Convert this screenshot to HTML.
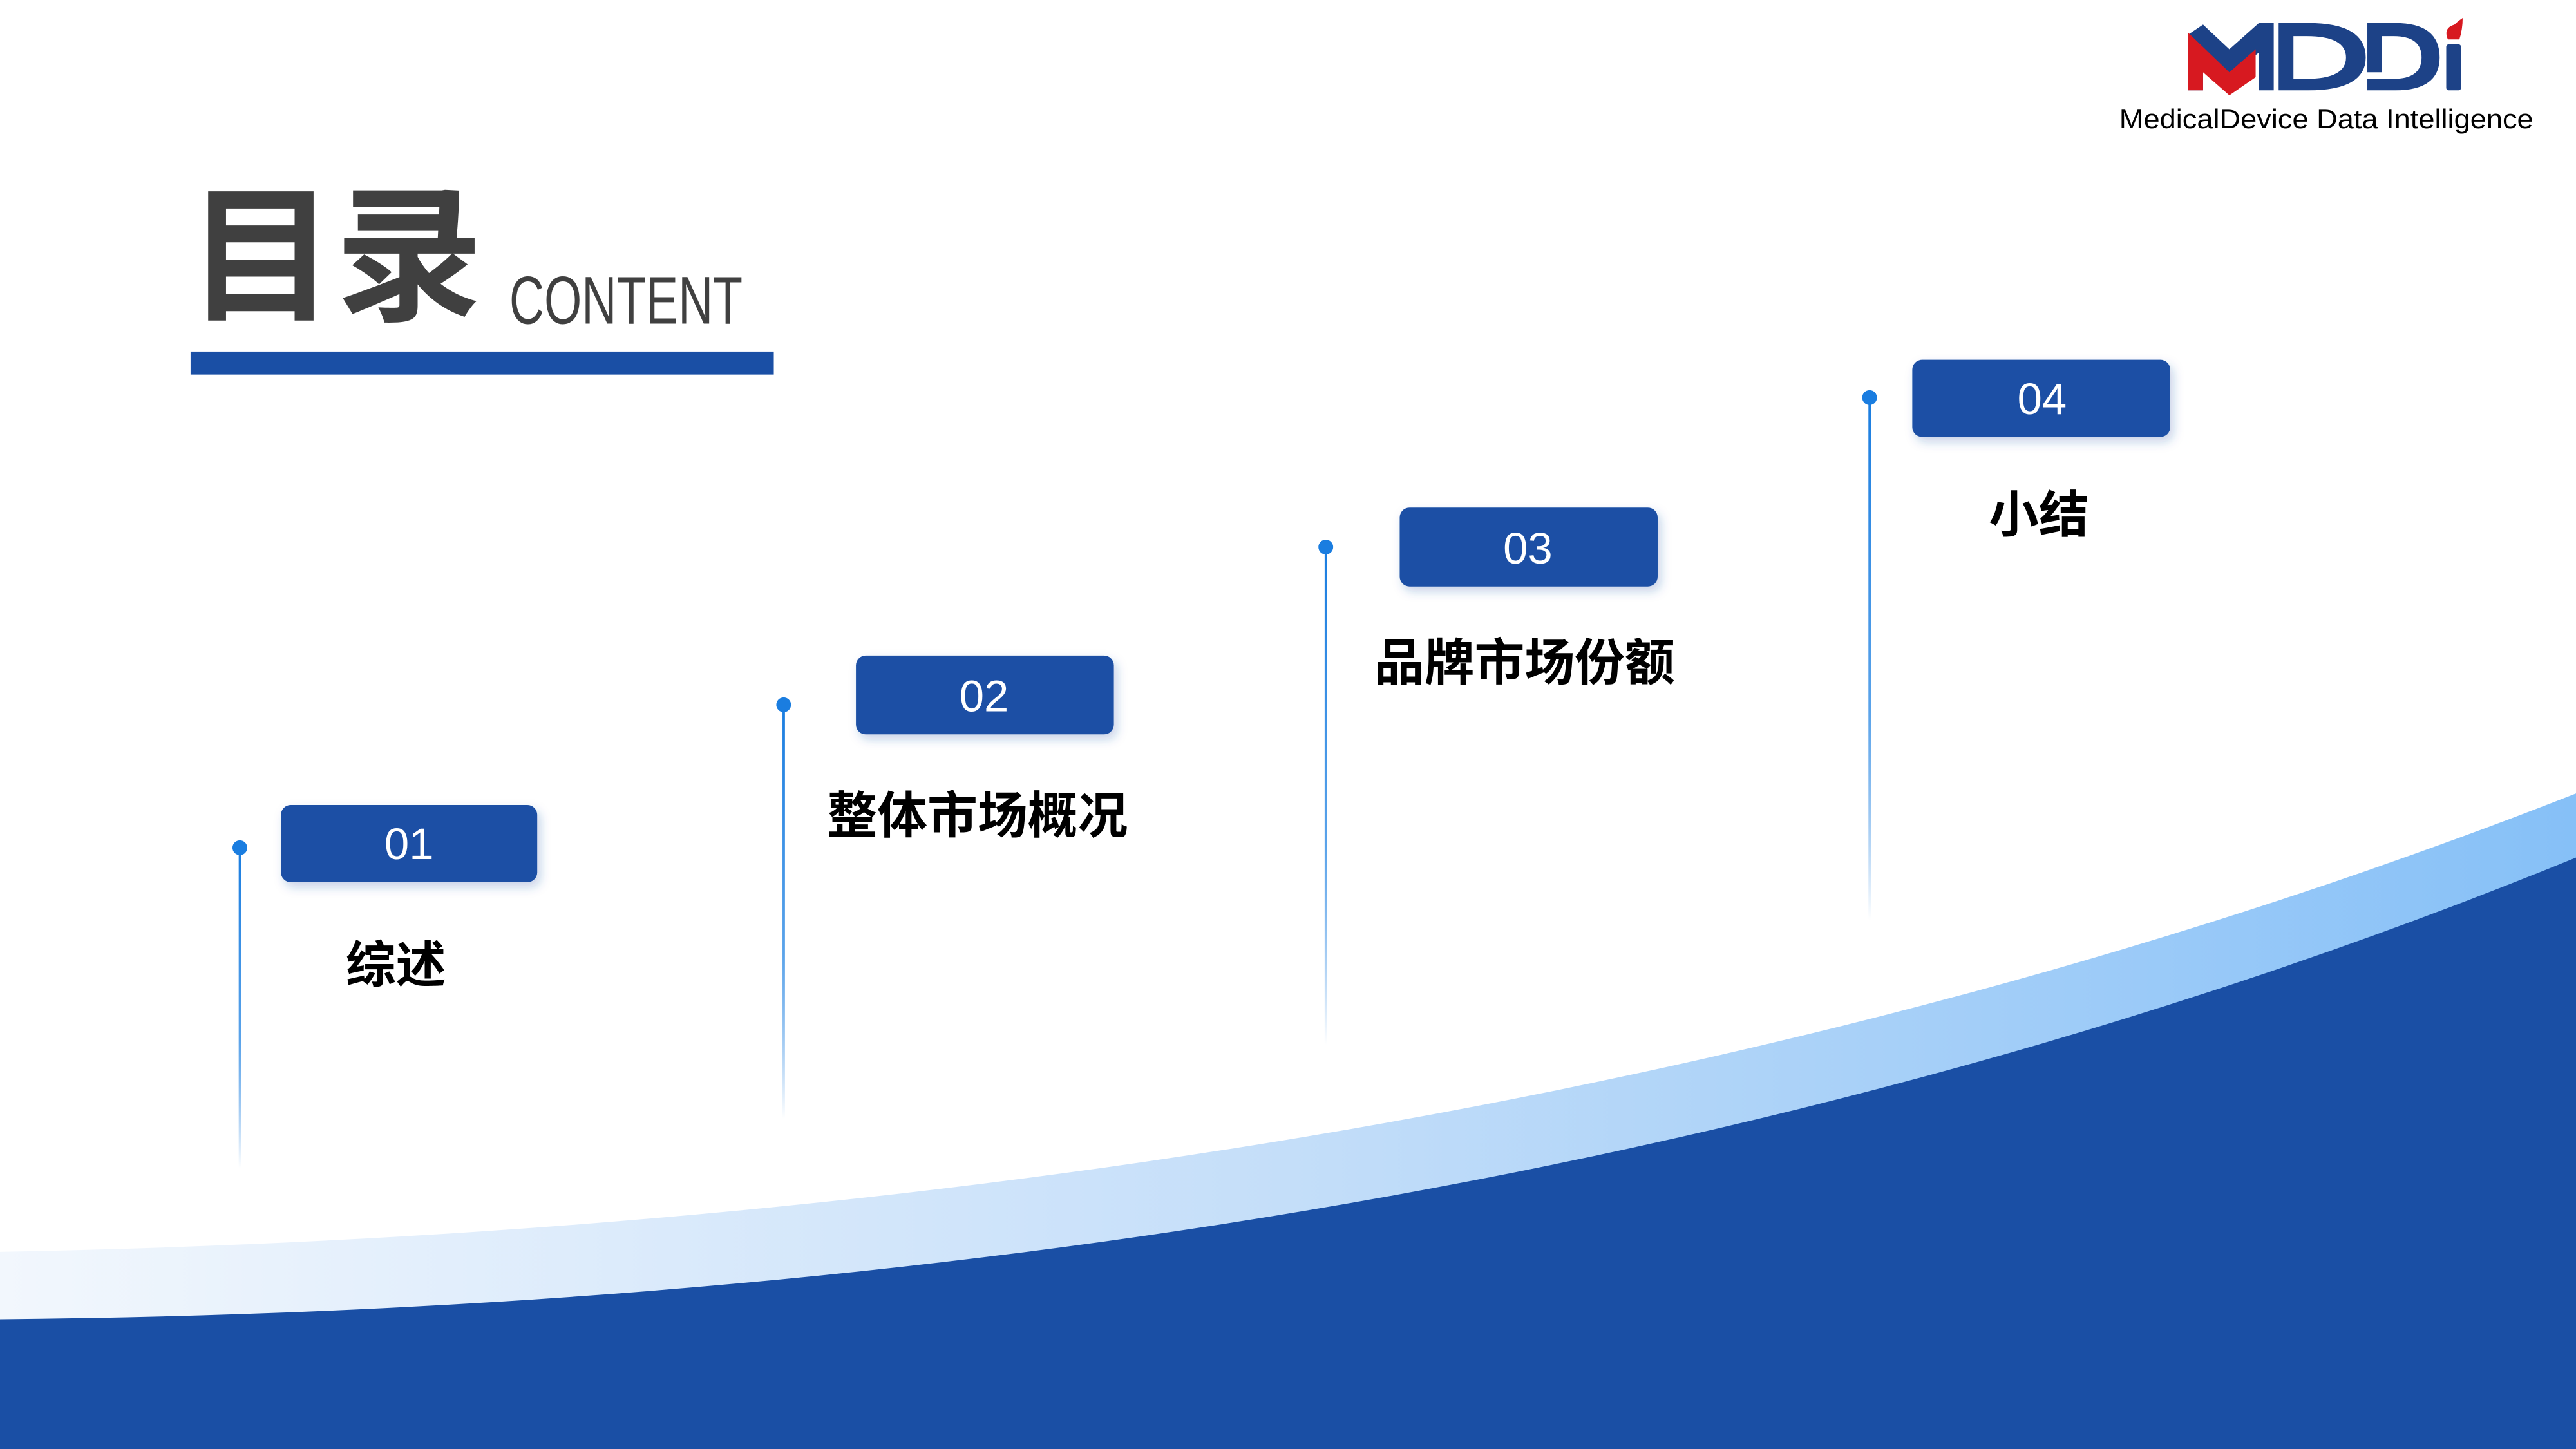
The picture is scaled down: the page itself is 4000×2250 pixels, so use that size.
<!DOCTYPE html>
<html><head><meta charset="utf-8"><style>
html,body{margin:0;padding:0;background:#fff;width:4000px;height:2250px;overflow:hidden}
svg{display:block}
</style></head><body>
<svg width="4000" height="2250" viewBox="0 0 1568 882" preserveAspectRatio="none" xmlns="http://www.w3.org/2000/svg">
<defs>
<linearGradient id="lb" x1="0" y1="0" x2="1" y2="0">
<stop offset="0" stop-color="#f2f7fd"/><stop offset="0.5" stop-color="#c4def9"/><stop offset="1" stop-color="#86c0f7"/>
</linearGradient>
<linearGradient id="ln" x1="0" y1="0" x2="0" y2="1">
<stop offset="0" stop-color="#1a7de0"/><stop offset="0.6" stop-color="#5aa3ea"/><stop offset="1" stop-color="#1a7de0" stop-opacity="0"/>
</linearGradient>
<filter id="sh" x="-20%" y="-30%" width="140%" height="170%"><feDropShadow dx="2" dy="3" stdDeviation="3" flood-color="#1a4fa5" flood-opacity="0.25"/></filter>
</defs>
<rect width="1568" height="882" fill="#fff"/>
<path d="M0,762 Q900,745 1568,483 L1568,882 L0,882 Z" fill="url(#lb)"/>
<path d="M0,803 Q900,795 1568,522 L1568,882 L0,882 Z" fill="#1a4fa5"/>

<!-- title -->
<text x="114" y="188" font-family="Liberation Sans,'Noto Sans CJK SC',sans-serif" font-weight="bold" font-size="90" fill="#404040">目录</text>
<text x="310" y="197" font-family="Liberation Sans,sans-serif" font-size="41" fill="#404040" textLength="142" lengthAdjust="spacingAndGlyphs">CONTENT</text>
<rect x="116" y="214" width="355" height="14" fill="#1a4fa5"/>

<!-- logo -->
<g>
<path d="M1332,21 L1332,55 L1341,55 L1341,32 L1357,46 L1375,32 L1375,55 L1384,55 L1384,14 L1375,14 L1357,30 L1341,15 Z" fill="#1d4287"/>
<path d="M1332,20 L1357,44 L1373,30 L1373,47 L1357,58 L1341,44 L1341,55 L1332,55Z" fill="#d71920"/>
<path d="M1387,14 L1405,14 Q1440,14 1440,35 Q1440,55 1405,55 L1387,55 L1387,48 L1404,48 Q1428,48 1428,35 Q1428,22 1404,22 L1396,22 L1396,48 L1387,48 Z" fill="#1d4287"/>
<path d="M1441,14 L1458,14 Q1485,14 1485,35 Q1485,55 1458,55 L1441,55 L1441,48 L1457,48 Q1474,48 1474,35 Q1474,22 1457,22 L1450,22 L1450,44 L1441,44 Z" fill="#1d4287"/>
<rect x="1489" y="27" width="9" height="28" rx="1.5" fill="#1d4287"/>
<path d="M1490,24 Q1487,17 1494,15 Q1496,13 1499,11 Q1499,18 1497,24 Z" fill="#d71920"/>
<text x="1290" y="78" font-family="Liberation Sans,sans-serif" font-size="16.5" fill="#000" textLength="252" lengthAdjust="spacingAndGlyphs">MedicalDevice Data Intelligence</text>
</g>

<!-- timelines -->
<g font-family="Liberation Sans,'Noto Sans CJK SC',sans-serif">
<rect x="145.3" y="516" width="1.5" height="195" fill="url(#ln)"/>
<circle cx="146" cy="516" r="4.5" fill="#1a7de0"/>
<rect x="171" y="490" width="156" height="47" rx="6" fill="#1a4fa5" filter="url(#sh)"/>
<text x="249" y="523" text-anchor="middle" font-size="27" fill="#fff">01</text>
<text x="241" y="598" text-anchor="middle" font-size="30.5" font-weight="bold" fill="#000">综述</text>

<rect x="476.3" y="429" width="1.5" height="252" fill="url(#ln)"/>
<circle cx="477" cy="429" r="4.5" fill="#1a7de0"/>
<rect x="521" y="399" width="157" height="48" rx="6" fill="#1a4fa5" filter="url(#sh)"/>
<text x="599" y="433" text-anchor="middle" font-size="27" fill="#fff">02</text>
<text x="595" y="507" text-anchor="middle" font-size="30.5" font-weight="bold" fill="#000">整体市场概况</text>

<rect x="806.3" y="333" width="1.5" height="303" fill="url(#ln)"/>
<circle cx="807" cy="333" r="4.5" fill="#1a7de0"/>
<rect x="852" y="309" width="157" height="48" rx="6" fill="#1a4fa5" filter="url(#sh)"/>
<text x="930" y="343" text-anchor="middle" font-size="27" fill="#fff">03</text>
<text x="928" y="414" text-anchor="middle" font-size="30.5" font-weight="bold" fill="#000">品牌市场份额</text>

<rect x="1137.3" y="242" width="1.5" height="318" fill="url(#ln)"/>
<circle cx="1138" cy="242" r="4.5" fill="#1a7de0"/>
<rect x="1164" y="219" width="157" height="47" rx="6" fill="#1a4fa5" filter="url(#sh)"/>
<text x="1243" y="252" text-anchor="middle" font-size="27" fill="#fff">04</text>
<text x="1241" y="324" text-anchor="middle" font-size="30.5" font-weight="bold" fill="#000">小结</text>
</g>
</svg>
</body></html>
